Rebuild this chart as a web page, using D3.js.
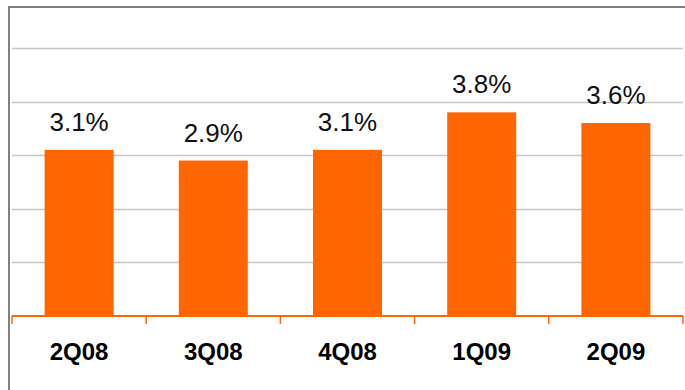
<!DOCTYPE html>
<html>
<head>
<meta charset="utf-8">
<script src="https://cdn.jsdelivr.net/npm/d3@7"></script>
<style>
  html, body { margin: 0; padding: 0; background: #fff; }
  svg { display: block; }
</style>
</head>
<body>
<svg id="chart" width="685" height="390"></svg>
<script>
// Quarterly values (percent)
const quarters = ["2Q08", "3Q08", "4Q08", "1Q09", "2Q09"];
const values = [3.1, 2.9, 3.1, 3.8, 3.6];
const gridTicks = [1, 2, 3, 4, 5];

const svg = d3.select("#chart");
const W = 685, H = 390;
const plot = { left: 12, right: 683, top: 48, bottom: 316 };

// Outer frame (runs past the right and bottom edges)
svg.append("rect")
  .attr("x", 9).attr("y", 7)
  .attr("width", 700).attr("height", 420)
  .attr("fill", "none")
  .attr("stroke", "#808080")
  .attr("stroke-width", 2);

const x = d3.scaleBand()
  .domain(quarters)
  .range([plot.left, plot.right])
  .paddingInner(0.486)
  .paddingOuter(0.243);

const y = d3.scaleLinear()
  .domain([0, 5])
  .range([plot.bottom, plot.top]);

// Horizontal gridlines
svg.append("g")
  .selectAll("line")
  .data(gridTicks)
  .join("line")
  .attr("x1", plot.left).attr("x2", plot.right)
  .attr("y1", d => Math.round(y(d)) + 0.5)
  .attr("y2", d => Math.round(y(d)) + 0.5)
  .attr("stroke", "#c6c6c6")
  .attr("stroke-width", 1.5);

// Bars
svg.append("g")
  .selectAll("rect")
  .data(values)
  .join("rect")
  .attr("x", (d, i) => x(quarters[i]))
  .attr("y", d => y(d))
  .attr("width", x.bandwidth())
  .attr("height", d => plot.bottom - y(d))
  .attr("fill", "#ff6600");

// Value labels
svg.append("g")
  .selectAll("text")
  .data(values)
  .join("text")
  .attr("x", (d, i) => x(quarters[i]) + x.bandwidth() / 2)
  .attr("y", d => y(d) - 19)
  .attr("text-anchor", "middle")
  .attr("font-family", "Liberation Sans, Arial, sans-serif")
  .attr("font-size", 26)
  .attr("fill", "#111")
  .text(d => d.toFixed(1) + "%");

// Category axis with band-boundary ticks
const axisY = plot.bottom;
const axisG = svg.append("g");
axisG.append("line")
  .attr("x1", plot.left).attr("x2", plot.right)
  .attr("y1", axisY).attr("y2", axisY)
  .attr("stroke", "#ff6600")
  .attr("stroke-width", 2);

const step = x.step();
const bounds = d3.range(quarters.length + 1).map(i => plot.left + i * (plot.right - plot.left) / quarters.length);
axisG.selectAll("line.tick")
  .data(bounds)
  .join("line")
  .attr("class", "tick")
  .attr("x1", d => d).attr("x2", d => d)
  .attr("y1", axisY).attr("y2", axisY + 8)
  .attr("stroke", "#ff6600")
  .attr("stroke-width", 1.5);

axisG.selectAll("text")
  .data(quarters)
  .join("text")
  .attr("x", d => x(d) + x.bandwidth() / 2)
  .attr("y", 360)
  .attr("text-anchor", "middle")
  .attr("font-family", "Liberation Sans, Arial, sans-serif")
  .attr("font-weight", "bold")
  .attr("font-size", 24)
  .attr("fill", "#000")
  .text(d => d);
</script>
</body>
</html>
